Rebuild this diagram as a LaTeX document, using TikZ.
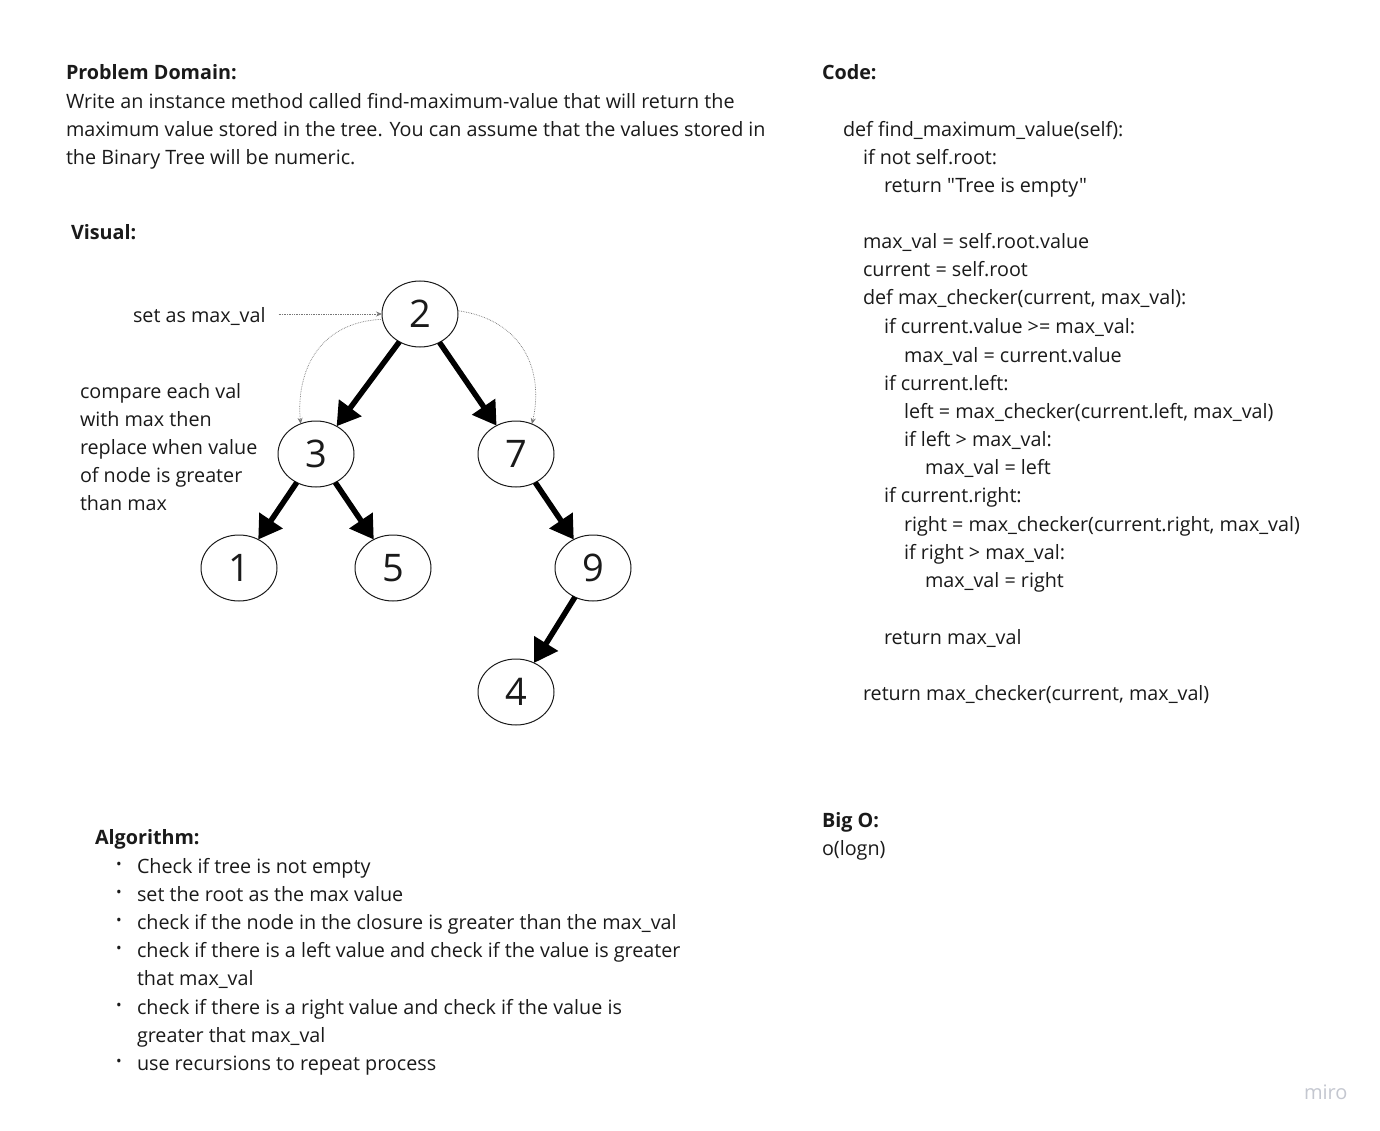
\documentclass[tikz,border=0pt]{standalone}
\usepackage{fontspec}
\setmainfont{Open Sans}[Ligatures=TeXOff]
\usetikzlibrary{arrows.meta,shapes.geometric}
\definecolor{txt}{HTML}{1A1A1A}
\definecolor{dotc}{HTML}{777777}
\definecolor{miroc}{HTML}{C4C7D0}
\begin{document}
\begin{tikzpicture}[x=1pt,y=-1pt,
  every node/.style={inner sep=0pt, outer sep=0pt},
  txtnode/.style={anchor=base west, font=\fontsize{19.75}{24}\selectfont, text=txt},
  hdr/.style={anchor=base west, font=\fontsize{19.75}{24}\selectfont\bfseries, text=txt},
  treenode/.style={ellipse, draw=txt, line width=1pt, minimum width=76pt, minimum height=66pt, font=\fontsize{38}{40}\selectfont, text=txt},
  edgearrow/.style={draw=black, line width=5.5pt, -{Triangle[length=23pt,width=27pt]}},
  dots/.style={dotc, densely dotted, line width=0.7pt, -{Stealth[length=6pt,width=5pt]}},
  bul/.style={anchor=center, font=\fontsize{15}{15}\selectfont, text=txt}]
\useasboundingbox[fill=white] (0,0) rectangle (1380,1131);

% Problem domain
\node[hdr] (pdh) at (66,80) {Problem Domain:};
\node[txtnode] (pd1) at (66,109) {Write an instance method called find-maximum-value that will return the};
\node[txtnode] (pd2) at (66,137) {maximum value stored in the tree. You can assume that the values stored in};
\node[txtnode] (pd3) at (66,165) {the Binary Tree will be numeric.};

% Visual
\node[hdr] (vh) at (71,240) {Visual:};
\node[txtnode] (setmax) at (133,323) {set as max\_val};
\node[txtnode] (cmp1) at (80,398) {compare each val};
\node[txtnode] (cmp2) at (80,426) {with max then};
\node[txtnode] (cmp3) at (80,454) {replace when value};
\node[txtnode] (cmp4) at (80,482) {of node is greater};
\node[txtnode] (cmp5) at (80,510) {than max};

% Tree
\node[treenode] (n2) at (420,314) {2};
\node[treenode] (n3) at (316,454) {3};
\node[treenode] (n7) at (516,454) {7};
\node[treenode] (n1) at (239,568) {1};
\node[treenode] (n5) at (393,568) {5};
\node[treenode] (n9) at (593,568) {9};
\node[treenode] (n4) at (516,692) {4};

\draw[edgearrow] (n2) -- (n3);
\draw[edgearrow] (n2) -- (n7);
\draw[edgearrow] (n3) -- (n1);
\draw[edgearrow] (n3) -- (n5);
\draw[edgearrow] (n7) -- (n9);
\draw[edgearrow] (n9) -- (n4);

\coordinate (smend) at ([xshift=13pt]setmax.east |- n2.west);
\draw[dots] (smend) -- (n2.west);
\draw[dots] (n2.188) .. controls (318,322) and (296,372) .. (n3.117);
\draw[dots] (n2.5) .. controls (524,320) and (544,372) .. (n7.62);

% Algorithm
\node[hdr] (alh) at (95,844) {Algorithm:};
\foreach \y/\t [count=\i] in {873/{Check if tree is not empty},
  901/{set the root as the max value},
  929/{check if the node in the closure is greater than the max\_val},
  957/{check if there is a left value and check if the value is greater},
  985/{that max\_val},
  1014/{check if there is a right value and check if the value is},
  1042/{greater that max\_val},
  1070/{use recursions to repeat process}}{
  \node[txtnode] (al\i) at (137,\y) {\t};
}
\foreach \y [count=\i] in {866,894,922,950,1007,1063}{
  \node[bul] (b\i) at (119,\y) {•};
}

% Code
\node[hdr] (codeh) at (822,80) {Code:};
\node[txtnode] (c1) at (843,137) {def find\_maximum\_value(self):};
\node[txtnode] (c2) at (863,165) {if not self.root:};
\node[txtnode] (c3) at (884,193) {return "Tree is empty"};
\node[txtnode] (c4) at (863,249) {max\_val = self.root.value};
\node[txtnode] (c5) at (863,277) {current = self.root};
\node[txtnode] (c6) at (863,305) {def max\_checker(current, max\_val):};
\node[txtnode] (c7) at (884,334) {if current.value >= max\_val:};
\node[txtnode] (c8) at (904,362) {max\_val = current.value};
\node[txtnode] (c9) at (884,390) {if current.left:};
\node[txtnode] (c10) at (904,418) {left = max\_checker(current.left, max\_val)};
\node[txtnode] (c11) at (904,446) {if left > max\_val:};
\node[txtnode] (c12) at (925,474) {max\_val = left};
\node[txtnode] (c13) at (884,502) {if current.right:};
\node[txtnode] (c14) at (904,531) {right = max\_checker(current.right, max\_val)};
\node[txtnode] (c15) at (904,559) {if right > max\_val:};
\node[txtnode] (c16) at (925,587) {max\_val = right};
\node[txtnode] (c17) at (884,644) {return max\_val};
\node[txtnode] (c18) at (863,700) {return max\_checker(current, max\_val)};

% Big O
\node[hdr] (boh) at (822,827) {Big O:};
\node[txtnode] (bo) at (822,855) {o(logn)};

% miro
\node[anchor=base west, font=\fontsize{20}{20}\selectfont, text=miroc] (miro) at (1304,1099) {miro};
\end{tikzpicture}
\end{document}
